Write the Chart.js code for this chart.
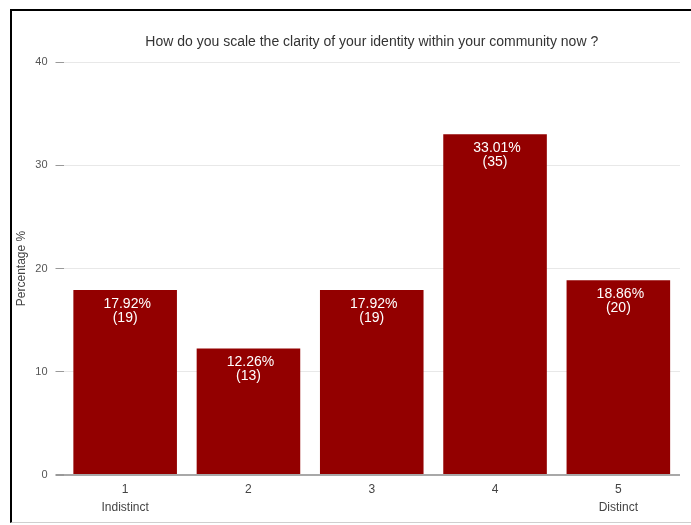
<!DOCTYPE html>
<html>
<head>
<meta charset="utf-8">
<script src="https://cdn.jsdelivr.net/npm/chart.js@4/dist/chart.umd.min.js"></script>
<style>
  html, body { margin: 0; padding: 0; background: #fff; }
  #wrap { position: relative; width: 691px; height: 525px; overflow: hidden; }
  #frame {
    position: absolute; left: 10px; top: 9px; width: 720px; height: 511px;
    border-top: 2px solid #000; border-left: 2px solid #000; border-bottom: 1px solid #cfcfcf;
    pointer-events: none;
  }
  canvas { position: absolute; left: 0; top: 0; }
</style>
</head>
<body>
<div id="wrap">
  <canvas id="c" width="691" height="525"></canvas>
  <div id="frame"></div>
</div>
<script>
// Scale answers (1 = indistinct ... 5 = distinct)
const categories = ['1', '2', '3', '4', '5'];
const endLabels = ['Indistinct', '', '', '', 'Distinct'];
// Share of respondents per answer, in percent
const percentages = [17.92, 12.26, 17.92, 33.01, 18.86];
// Number of respondents per answer
const counts = [19, 13, 19, 35, 20];
const yTicks = [0, 10, 20, 30, 40];
const chartTitle = 'How do you scale the clarity of your identity within your community now ?';

const FONT = "'Liberation Sans', Arial, Helvetica, sans-serif";

// Title centred over the plotting area
const titlePlugin = {
  id: 'areaTitle',
  afterDraw(chart) {
    const { ctx, chartArea } = chart;
    ctx.save();
    ctx.font = '14px ' + FONT;
    ctx.fillStyle = '#333';
    ctx.textAlign = 'center';
    ctx.textBaseline = 'middle';
    ctx.fillText(chartTitle, (chartArea.left + chartArea.right) / 2, 42);
    ctx.restore();
  }
};

// Percentage and count written inside the top of each bar
const barLabels = {
  id: 'barLabels',
  afterDatasetsDraw(chart) {
    const { ctx } = chart;
    const meta = chart.getDatasetMeta(0);
    ctx.save();
    ctx.font = '14px ' + FONT;
    ctx.fillStyle = '#ffffff';
    ctx.textAlign = 'center';
    ctx.textBaseline = 'middle';
    meta.data.forEach((bar, i) => {
      const v = chart.data.datasets[0].data[i];
      ctx.fillText(v.toFixed(2) + '%', bar.x + 2, bar.y + 14);
      ctx.fillText('(' + counts[i] + ')', bar.x, bar.y + 28);
    });
    ctx.restore();
  }
};

new Chart(document.getElementById('c'), {
  type: 'bar',
  data: {
    labels: categories.map((c, i) => [c, endLabels[i]]),
    datasets: [{
      data: percentages,
      backgroundColor: '#930000',
      borderWidth: 0,
      categoryPercentage: 1,
      barPercentage: 0.84
    }]
  },
  options: {
    responsive: false,
    animation: false,
    layout: { padding: { left: 0, right: 11, top: 62, bottom: 0 } },
    plugins: {
      legend: { display: false },
      title: { display: false },
      tooltip: { enabled: false }
    },
    scales: {
      x: {
        grid: { display: false, drawTicks: false },
        border: { display: false },
        ticks: {
          color: '#444',
          font: { family: FONT, size: 12, lineHeight: 1.5 },
          padding: 6,
          maxRotation: 0
        },
        afterFit(scale) { scale.height = 50; }
      },
      y: {
        min: 0,
        max: 40,
        afterBuildTicks(scale) { scale.ticks = yTicks.map(v => ({ value: v })); },
        border: { display: false },
        grid: {
          color: ctx => ctx.tick && ctx.tick.value === 0 ? '#a8a8a8' : '#e8e8e8',
          lineWidth: ctx => ctx.tick && ctx.tick.value === 0 ? 2 : 1,
          tickColor: '#999',
          tickLength: 8
        },
        ticks: {
          color: '#555',
          font: { family: FONT, size: 11 },
          padding: 8
        },
        title: {
          display: true,
          text: 'Percentage %',
          color: '#444',
          font: { family: FONT, size: 12 },
          padding: { top: 14, bottom: 0 }
        },
        afterFit(scale) { scale.width = 63.5; }
      }
    }
  },
  plugins: [titlePlugin, barLabels]
});
</script>
</body>
</html>
